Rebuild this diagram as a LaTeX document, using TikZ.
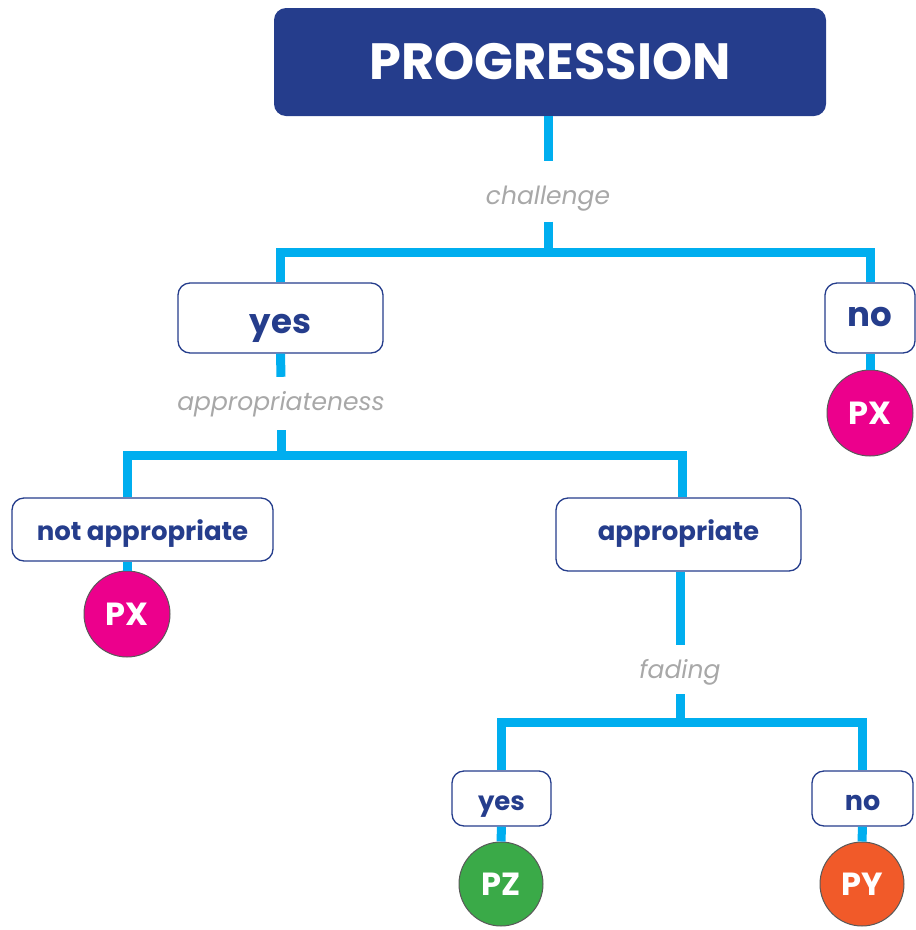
\documentclass[tikz,border=0pt]{standalone}
\usepackage{fontspec}
\setmainfont{Poppins}
\definecolor{navy}{HTML}{253D8C}
\definecolor{cyanline}{HTML}{00AEEF}
\definecolor{lgray}{HTML}{A8A8A8}
\definecolor{magenta}{HTML}{EC008C}
\definecolor{pgreen}{HTML}{3AAA48}
\definecolor{porange}{HTML}{F15A29}
\tikzset{
  choice/.style={draw=navy, line width=1.3pt, fill=white, rounded corners=12pt,
    text=navy, font=\bfseries\fontsize{26}{26}\selectfont, inner sep=0pt,
    text depth=1pt},
  lbl/.style={text=lgray, font=\itshape\fontsize{25}{25}\selectfont, inner xsep=2pt, inner ysep=0pt,
    text depth=1pt},
  result/.style={circle, draw=black!65, line width=1pt, text=white,
    font=\bfseries\fontsize{32}{32}\selectfont, inner sep=0pt},
  cline/.style={draw=cyanline, line width=9pt}
}
\begin{document}
\begin{tikzpicture}[x=1pt,y=-1pt]
\useasboundingbox (0,0) rectangle (916,930);
% title
\node[fill=navy, rounded corners=12pt, minimum width=552pt, minimum height=108pt,
  text=white, font=\bfseries\fontsize{51}{51}\selectfont, inner sep=0pt] (top) at (550,62) {PROGRESSION};
% labels
\node[lbl, minimum height=60pt, text height=26pt] (challenge) at (548,191.5) {challenge};
\node[lbl, minimum height=53pt, text height=14pt] (approp) at (281,403.5) {appropriateness};
\node[lbl, minimum height=49pt, text height=18pt] (fading) at (680,669.5) {fading};
% junctions
\coordinate (j1) at (548,252);
\coordinate (j2) at (281,455);
\coordinate (j3) at (680,722);
% boxes
\node[choice, minimum width=205pt, minimum height=70pt, text height=31pt, font=\bfseries\fontsize{34}{34}\selectfont] (yes1) at (280.5,318) {yes};
\node[choice, minimum width=90pt, minimum height=70pt, text height=17pt, font=\bfseries\fontsize{34}{34}\selectfont] (no1) at (870,318) {no};
\node[choice, minimum width=261pt, minimum height=63pt, text height=22pt] (notapp) at (142.5,529.5) {not appropriate};
\node[choice, minimum width=245pt, minimum height=73pt, text height=12pt] (app) at (678.5,534.5) {appropriate};
\node[choice, minimum width=99pt, minimum height=55pt, text height=24pt] (yes2) at (501.5,798.5) {yes};
\node[choice, minimum width=101pt, minimum height=55pt, text height=24pt, font=\bfseries\fontsize{27}{27}\selectfont] (no2) at (862.5,798.5) {no};
% results
\node[result, fill=magenta, minimum size=86pt] (px1) at (870,413) {PX};
\node[result, fill=magenta, minimum size=86pt] (px2) at (127,614) {PX};
\node[result, fill=pgreen, minimum size=84pt] (pz) at (501,884) {PZ};
\node[result, fill=porange, minimum size=84pt] (py) at (862,884) {PY};
% connectors
\draw[cline] (top.south -| j1) -- (challenge.north);
\draw[cline] (challenge.south) -- (j1);
\draw[cline] (yes1.north) |- (j1) -| (no1.north);
\draw[cline] (yes1.south) -- (approp.north);
\draw[cline] (approp.south) -- (j2);
\draw[cline] (notapp.north -| px2) |- (j2) -| ([xshift=4pt]app.north);
\draw[cline] (app.south -| j3) -- (fading.north);
\draw[cline] (fading.south) -- (j3);
\draw[cline] (yes2.north) |- (j3) -| (no2.north);
\draw[cline] (no1.south) -- (px1.north);
\draw[cline] (notapp.south -| px2) -- (px2.north);
\draw[cline] (yes2.south) -- (pz.north);
\draw[cline] (no2.south) -- (py.north);
\end{tikzpicture}
\end{document}
